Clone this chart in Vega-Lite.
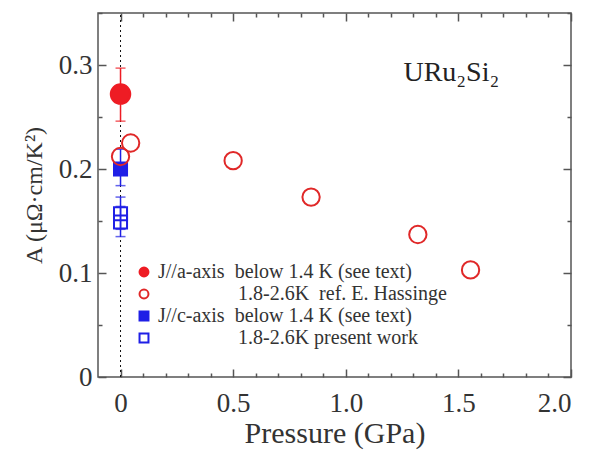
{
  "$schema": "https://vega.github.io/schema/vega-lite/v6.json",
  "width": 473,
  "height": 364,
  "autosize": "none",
  "padding": {"left": 98, "top": 13, "right": 19, "bottom": 73},
  "background": "white",
  "config": {
    "view": {"stroke": "#555", "strokeWidth": 1.5},
    "axis": {
      "domain": false, "grid": false,
      "labelFont": "Liberation Serif", "labelFontSize": 27, "labelColor": "#333",
      "titleFont": "Liberation Serif", "titleFontSize": 30, "titleColor": "#333", "titleFontWeight": "normal",
      "tickColor": "#555", "tickWidth": 1.5
    },
    "legend": {"labelFont": "Liberation Serif", "labelFontSize": 20, "labelColor": "#333", "labelLimit": 500}
  },
  "datasets": {
    "pts": [
      {"P": 0, "A": 0.272, "lo": 0.246, "hi": 0.297, "series": "a_low"},
      {"P": 0, "A": 0.200, "lo": 0.184, "hi": 0.219, "series": "c_low"},
      {"P": 0, "A": 0.157, "lo": 0.142, "hi": 0.173, "series": "c_present"},
      {"P": 0, "A": 0.149, "lo": 0.135, "hi": 0.164, "series": "c_present"},
      {"P": 0, "A": 0.212, "series": "a_hass"},
      {"P": 0.045, "A": 0.225, "series": "a_hass"},
      {"P": 0.5, "A": 0.208, "series": "a_hass"},
      {"P": 0.846, "A": 0.173, "series": "a_hass"},
      {"P": 1.32, "A": 0.137, "series": "a_hass"},
      {"P": 1.554, "A": 0.103, "series": "a_hass"}
    ]
  },
  "resolve": {"axis": {"x": "independent", "y": "independent"}},
  "layer": [
    {
      "data": {"values": [{}]},
      "mark": {"type": "rule", "color": "#111", "strokeDash": [2, 3], "strokeWidth": 1},
      "encoding": {
        "x": {"datum": 0, "type": "quantitative", "scale": {"domain": [-0.1, 2.0], "nice": false, "zero": false},
          "axis": {"orient": "top", "labels": false, "title": null,
            "values": [0,0.1,0.2,0.3,0.4,0.5,0.6,0.7,0.8,0.9,1.0,1.1,1.2,1.3,1.4,1.5,1.6,1.7,1.8,1.9,2.0],
            "tickSize": {"condition": {"test": "abs(datum.value*2-round(datum.value*2))<0.001", "value": -8}, "value": -4}}},
        "y": {"datum": 0, "type": "quantitative", "scale": {"domain": [0, 0.35], "nice": false, "zero": false},
          "axis": {"orient": "right", "labels": false, "title": null,
            "values": [0,0.05,0.1,0.15,0.2,0.25,0.3,0.35],
            "tickSize": {"condition": {"test": "abs(datum.value*10-round(datum.value*10))<0.001", "value": -8}, "value": -4}}},
        "y2": {"datum": 0.35}
      }
    },
    {
      "data": {"name": "pts"},
      "transform": [{"filter": "isValid(datum.lo)"}],
      "mark": {"type": "rule", "strokeWidth": 1.5},
      "encoding": {
        "x": {"field": "P", "type": "quantitative", "axis": null},
        "y": {"field": "lo", "type": "quantitative", "axis": null},
        "y2": {"field": "hi"},
        "color": {"condition": {"test": "datum.series=='a_low'", "value": "#ee1c24"}, "value": "#1f1fe6"}
      }
    },
    {
      "data": {"name": "pts"},
      "transform": [{"filter": "isValid(datum.lo)"}],
      "mark": {"type": "tick", "orient": "horizontal", "size": 10, "thickness": 1.5},
      "encoding": {
        "x": {"field": "P", "type": "quantitative", "axis": null},
        "y": {"field": "lo", "type": "quantitative", "axis": null},
        "color": {"condition": {"test": "datum.series=='a_low'", "value": "#ee1c24"}, "value": "#1f1fe6"}
      }
    },
    {
      "data": {"name": "pts"},
      "transform": [{"filter": "isValid(datum.hi)"}],
      "mark": {"type": "tick", "orient": "horizontal", "size": 10, "thickness": 1.5},
      "encoding": {
        "x": {"field": "P", "type": "quantitative", "axis": null},
        "y": {"field": "hi", "type": "quantitative", "axis": null},
        "color": {"condition": {"test": "datum.series=='a_low'", "value": "#ee1c24"}, "value": "#1f1fe6"}
      }
    },
    {
      "data": {"name": "pts"},
      "mark": {"type": "point", "strokeWidth": 2, "opacity": 1},
      "encoding": {
        "x": {"field": "P", "type": "quantitative",
          "axis": {"orient": "bottom", "title": "Pressure (GPa)", "labelPadding": 21, "titlePadding": 2,
            "values": [0,0.1,0.2,0.3,0.4,0.5,0.6,0.7,0.8,0.9,1.0,1.1,1.2,1.3,1.4,1.5,1.6,1.7,1.8,1.9,2.0],
            "labelExpr": "abs(datum.value*2-round(datum.value*2))<0.001 ? (datum.value==0 ? '0' : format(datum.value,'.1f')) : ''",
            "tickSize": {"condition": {"test": "abs(datum.value*2-round(datum.value*2))<0.001", "value": -8}, "value": -4}}},
        "y": {"field": "A", "type": "quantitative",
          "axis": {"orient": "left", "title": "A (μΩ·cm/K²)", "titleFontSize": 24, "labelPadding": 14, "titlePadding": 12,
            "values": [0,0.05,0.1,0.15,0.2,0.25,0.3,0.35],
            "labelExpr": "abs(datum.value*10-round(datum.value*10))<0.001 ? (datum.value==0 ? '0' : format(datum.value,'.1f')) : ''",
            "tickSize": {"condition": {"test": "abs(datum.value*10-round(datum.value*10))<0.001", "value": -8}, "value": -4}}},
        "shape": {"field": "series", "type": "nominal",
          "scale": {"domain": ["a_low", "a_hass", "c_low", "c_present"], "range": ["circle", "circle", "square", "square"]},
          "legend": {"title": null, "orient": "none", "legendX": 36, "legendY": 249, "rowPadding": 2, "symbolSize": 80, "symbolStrokeWidth": 2,
            "labelExpr": "datum.value=='a_low' ? 'J//a-axis\u00a0\u00a0below 1.4 K (see text)' : datum.value=='a_hass' ? '\u200b\u00a0\u00a0\u00a0\u00a0\u00a0\u00a0\u00a0\u00a0\u00a0\u00a0\u00a0\u00a0\u00a0\u00a0\u00a0\u00a01.8-2.6K\u00a0\u00a0ref. E. Hassinge' : datum.value=='c_low' ? 'J//c-axis\u00a0\u00a0below 1.4 K (see text)' : '\u200b\u00a0\u00a0\u00a0\u00a0\u00a0\u00a0\u00a0\u00a0\u00a0\u00a0\u00a0\u00a0\u00a0\u00a0\u00a0\u00a01.8-2.6K present work'"}},
        "stroke": {"field": "series", "type": "nominal",
          "scale": {"domain": ["a_low", "a_hass", "c_low", "c_present"], "range": ["#ee1c24", "#e02828", "#1f1fe6", "#1f1fe6"]}},
        "fill": {"field": "series", "type": "nominal",
          "scale": {"domain": ["a_low", "a_hass", "c_low", "c_present"], "range": ["#ee1c24", "transparent", "#1f1fe6", "transparent"]}},
        "size": {"condition": [{"test": "datum.series=='a_low'", "value": 380}, {"test": "datum.series=='a_hass'", "value": 300}],
          "value": 170}
      }
    },
    {
      "data": {"values": [{}]},
      "mark": {"type": "text", "align": "left", "baseline": "middle", "font": "Liberation Serif", "fontSize": 28, "color": "#222"},
      "encoding": {
        "x": {"datum": 1.256, "type": "quantitative", "axis": null},
        "y": {"datum": 0.292, "type": "quantitative", "axis": null},
        "text": {"value": "URu₂Si₂"}
      }
    }
  ]
}
